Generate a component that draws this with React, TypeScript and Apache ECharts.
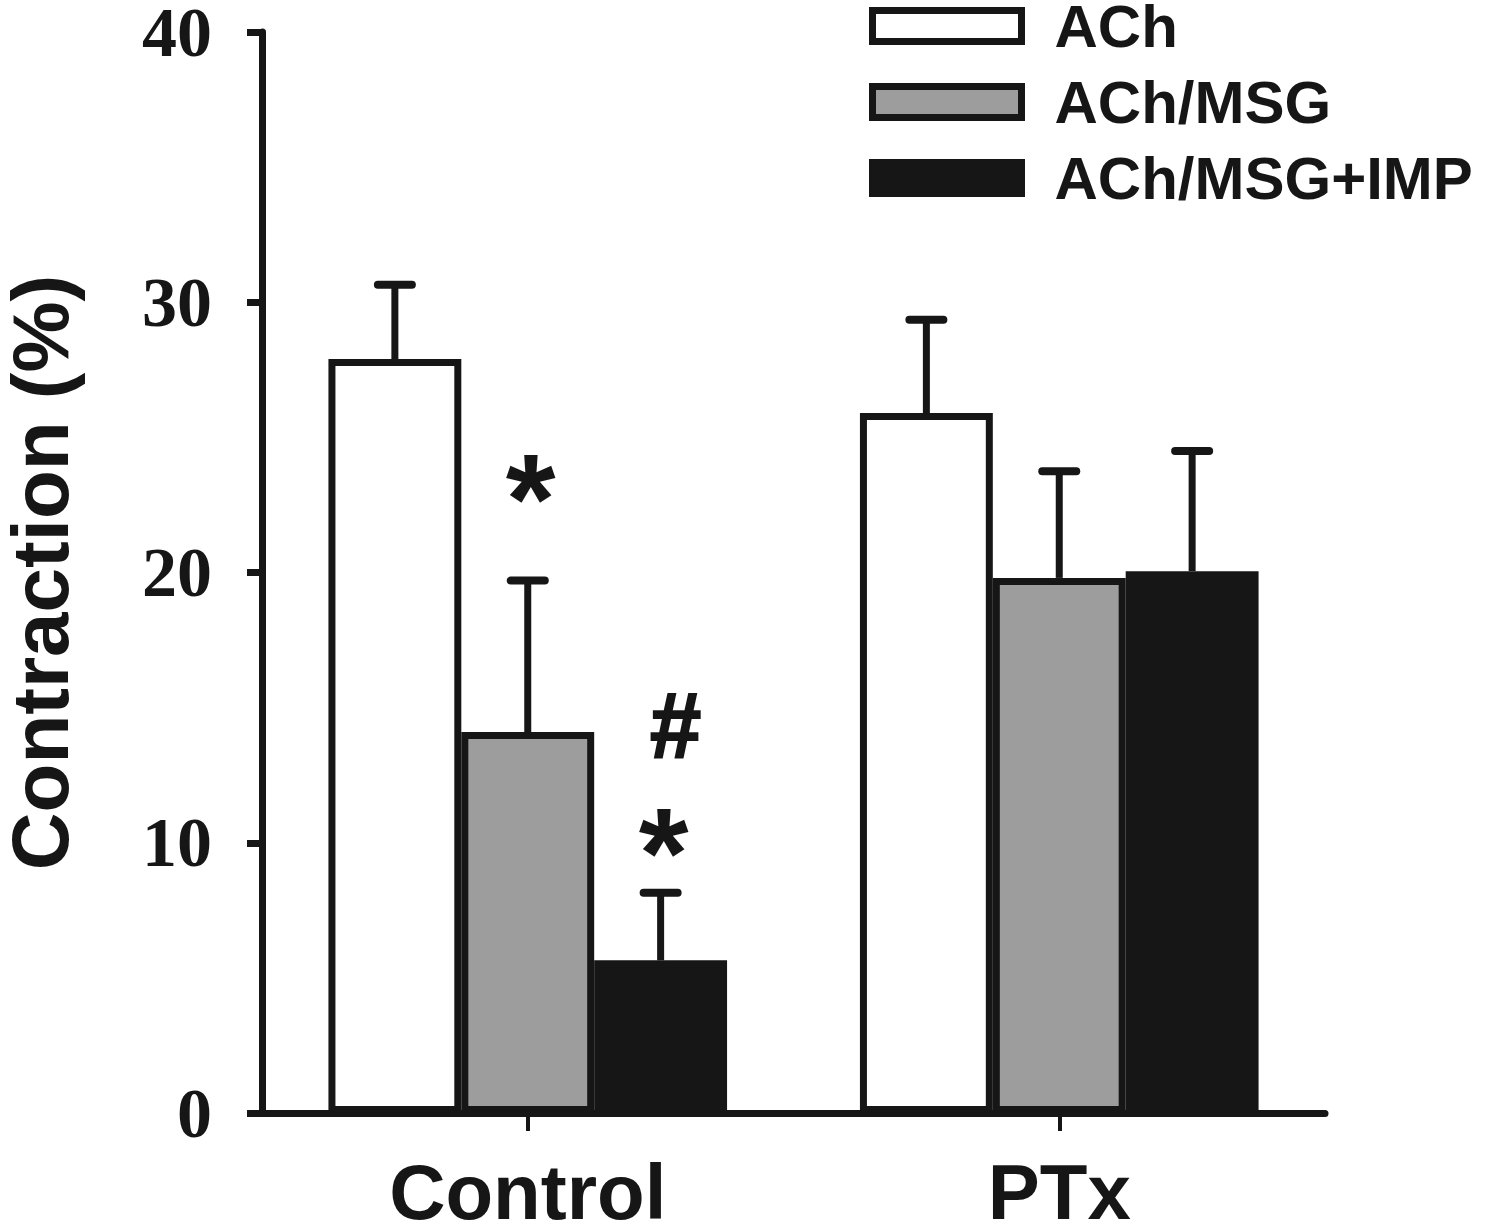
import React, { useEffect, useRef } from "react";
import * as echarts from "echarts";

const categories = ["Control", "PTx"];
const seriesNames = ["ACh", "ACh/MSG", "ACh/MSG+IMP"];
const seriesColors = ["#ffffff", "#9d9d9d", "#161616"];
const achMean = [27.9, 25.9];
const msgMean = [14.1, 19.8];
const impMean = [5.65, 20.05];
const achErr = [2.75, 3.45];
const msgErr = [5.6, 3.95];
const impErr = [2.5, 4.45];
const yTicks = [0, 10, 20, 30, 40];

// significance marks: category index, series index, y value, text
const markCat = [0, 0, 0];
const markGroup = [1, 2, 2];
const markY = [23.2, 14.0, 10.1];
const markText = ["*", "#", "*"];

const INK = "#161616";

export default function App() {
  const ref = useRef<HTMLDivElement>(null);
  useEffect(() => {
    if (!ref.current) return;
    const chart = echarts.init(ref.current, null, { renderer: "svg" });
    const means = [achMean, msgMean, impMean];
    const errs = [achErr, msgErr, impErr];
    const errData: number[][] = [];
    means.forEach((m, g) =>
      m.forEach((v, c) => errData.push([c, g, v, errs[g][c]]))
    );
    const markData = markCat.map((c, i) => [c, markGroup[i], markY[i], i]);
    const barFrac = 0.75;

    const barSeries = seriesNames.map((name, g) => ({
      name,
      type: "bar",
      data: means[g],
      barGap: "0%",
      barCategoryGap: "25%",
      itemStyle: { color: seriesColors[g], borderColor: INK, borderWidth: 7 },
    }));

    chart.setOption({
      animation: false,
      backgroundColor: "#ffffff",
      grid: {
        left: 262,
        right: 175,
        top: 32,
        bottom: 111,
        containLabel: false,
        outerBoundsMode: "none",
      },
      legend: {
        data: seriesNames,
        orient: "vertical",
        left: 864,
        top: -9,
        padding: 5,
        icon: "rect",
        itemWidth: 149,
        itemHeight: 31,
        itemGap: 16,
        itemStyle: { borderColor: INK, borderWidth: 7 },
        textStyle: {
          fontFamily: "Liberation Sans",
          fontWeight: "bold",
          fontSize: 60,
          color: INK,
          padding: [0, 0, 0, 28],
        },
      },
      xAxis: {
        type: "category",
        data: categories,
        axisLine: { show: true, lineStyle: { color: INK, width: 7 } },
        axisTick: { show: true, alignWithLabel: true, length: 18, lineStyle: { color: INK, width: 4 } },
        axisLabel: {
          fontFamily: "Liberation Sans",
          fontWeight: "bold",
          fontSize: 78,
          lineHeight: 60,
          color: INK,
          margin: 49,
        },
      },
      yAxis: {
        type: "value",
        min: 0,
        max: 40,
        interval: 10,
        name: "Contraction (%)",
        nameLocation: "middle",
        nameGap: 186,
        nameTextStyle: {
          fontFamily: "Liberation Sans",
          fontWeight: "bold",
          fontSize: 80,
          lineHeight: 72,
          color: INK,
        },
        splitLine: { show: false },
        axisLine: { show: true, lineStyle: { color: INK, width: 7 } },
        axisTick: { show: true, length: 15, lineStyle: { color: INK, width: 7 } },
        axisLabel: {
          fontFamily: "Liberation Serif",
          fontWeight: "bold",
          fontSize: 70,
          lineHeight: 58,
          color: INK,
          margin: 50,
          formatter: (v: number) => (yTicks.includes(v) ? String(v) : ""),
        },
      },
      series: [
        ...barSeries,
        {
          type: "custom",
          name: "err",
          data: errData,
          encode: { x: 0, y: 2 },
          z: 5,
          renderItem: (params: any, api: any) => {
            const cat = api.value(0);
            const grp = api.value(1);
            const mean = api.value(2);
            const err = api.value(3);
            const band = api.size([1, 0])[0];
            const barW = (band * barFrac) / 3;
            const cx = api.coord([cat, 0])[0] + (grp - 1) * barW;
            const yTop = api.coord([cat, mean])[1];
            const yErr = api.coord([cat, mean + err])[1];
            return {
              type: "group",
              children: [
                { type: "line", shape: { x1: cx, y1: yTop, x2: cx, y2: yErr }, style: { stroke: INK, lineWidth: 7 } },
                { type: "line", shape: { x1: cx - 17, y1: yErr, x2: cx + 17, y2: yErr }, style: { stroke: INK, lineWidth: 8, lineCap: "round" } },
              ],
            };
          },
        },
        {
          type: "custom",
          name: "marks",
          data: markData,
          encode: { x: 0, y: 2 },
          z: 6,
          renderItem: (params: any, api: any) => {
            const cat = api.value(0);
            const grp = api.value(1);
            const yv = api.value(2);
            const idx = api.value(3);
            const band = api.size([1, 0])[0];
            const barW = (band * barFrac) / 3;
            const cx = api.coord([cat, 0])[0] + (grp - 1) * barW;
            const cy = api.coord([cat, yv])[1];
            const t = markText[idx];
            const isStar = t === "*";
            return {
              type: "text",
              x: isStar ? cx + 3 : cx + 15,
              y: isStar ? cy + 12 : cy - 10,
              style: {
                text: t,
                fill: INK,
                fontFamily: "Liberation Sans",
                fontWeight: "bold",
                fontSize: isStar ? 128 : 92,
                align: "center",
                verticalAlign: "middle",
                stroke: isStar ? "none" : INK,
                lineWidth: isStar ? 0 : 2,
              },
            };
          },
        },
      ],
    });
    return () => chart.dispose();
  }, []);
  return (
    <div
      ref={ref}
      style={{ position: "fixed", left: 0, top: 0, width: 1500, height: 1224 }}
    />
  );
}
